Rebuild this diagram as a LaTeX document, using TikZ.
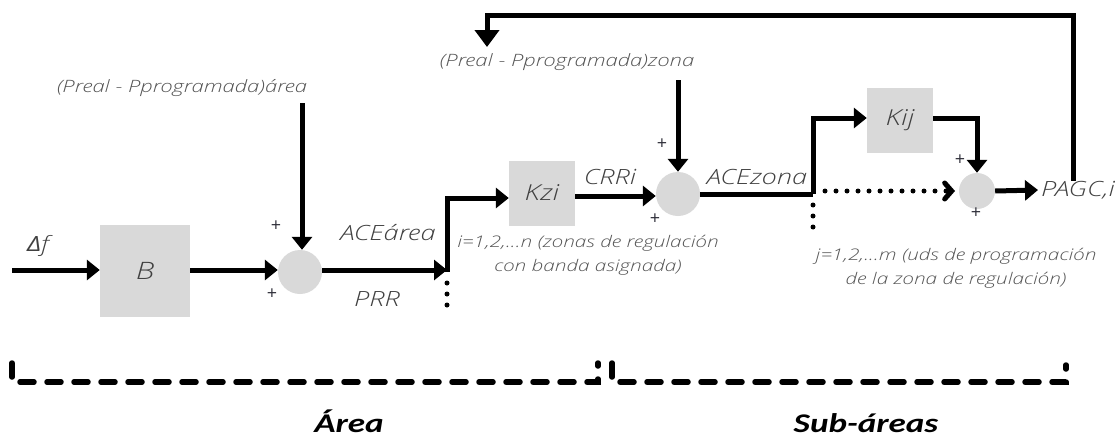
\documentclass[tikz,border=0pt]{standalone}
\usepackage{fontspec}
\setmainfont{Open Sans}[ItalicFont={Open Sans Light Italic}, ItalicFeatures={FakeStretch=1.3}]
\newfontfamily\grkfont{Open Sans}[ItalicFeatures={FakeStretch=1.2}]
\newfontfamily\capfont{Carlito}[FakeStretch=1.3]
\usetikzlibrary{arrows.meta}
\definecolor{boxgray}{HTML}{D9D9D9}
\definecolor{labelgray}{HTML}{404040}
\definecolor{notegray}{HTML}{555555}
\definecolor{plusgray}{HTML}{2F2F3A}
\begin{document}
\begin{tikzpicture}[x=1pt,y=-1pt,
  blk/.style={fill=boxgray, minimum width=66pt, minimum height=65pt, inner sep=0pt,
    font=\itshape\fontsize{22}{26}\selectfont, text=labelgray},
  sum/.style={circle, fill=boxgray, minimum size=44pt, inner sep=0pt},
  flow/.style={line width=5pt, -{Triangle[length=13pt,width=20pt]}},
  wire/.style={line width=5pt},
  dots/.style={line width=5pt, line cap=round, dash pattern=on 0pt off 11pt},
  lbl/.style={font=\itshape\fontsize{21}{24}\selectfont, text=labelgray, inner sep=0pt},
  note/.style={font=\itshape\fontsize{16}{24}\selectfont, text=notegray, align=center, inner sep=0pt},
  plus/.style={font=\fontsize{18}{18}\selectfont, text=plusgray, inner sep=0pt},
  brace/.style={line width=5.5pt, line cap=round, dash pattern=on 14pt off 13pt},
  sect/.style={font=\capfont\bfseries\itshape\fontsize{27}{30}\selectfont, inner sep=0pt}]
\useasboundingbox (0,0) rectangle (1118,439);

% ---- area stage ----
\node[blk, minimum width=90pt, minimum height=92pt, font=\itshape\fontsize{24}{26}\selectfont] (B) at (145,271) {B};
\node[sum] (s1) at (300,272) {};
\coordinate (in) at (12,270);
\node[lbl] (df) at (38,246) {{\grkfont\itshape Δ}f};
\node[note, font=\itshape\fontsize{17}{20}\selectfont] (parea) at (182,88) {(Preal - Pprogramada)área};
\coordinate (pa) at (302,103);
\node[plus] (p1a) at (276,226) {+};
\node[plus] (p1b) at (272,294) {+};
\node[lbl] (ace1) at (388,233) {ACEárea};
\node[lbl] (prr) at (377,299) {PRR};
\coordinate (j1) at (447,270);
\coordinate (j1d) at (447,313);

\draw[flow] (in) -- (B.west |- in);
\draw[flow] (B.east |- in) -- (s1.west |- in);
\draw[flow] (pa) -- (s1.north -| pa);
\draw[flow] (s1.east |- j1) -- (j1);

% ---- zone stage ----
\node[blk] (Kzi) at (542,193) {Kzi};
\node[sum] (s2) at (678,194) {};
\draw[wire] (447,272) -- (447,196);
\draw[flow] (447,198) -- (Kzi.west |- 0,198);
\draw[dots] (447,283) -- (j1d);
\node[lbl] (crr) at (610,177) {CRRi};
\node[note, font=\itshape\fontsize{17}{20}\selectfont] (pzona) at (567,62) {(Preal - Pprogramada)zona};
\coordinate (pz) at (678,80);
\node[plus] (p2a) at (662,144) {+};
\node[plus] (p2b) at (655,219) {+};
\node[lbl] (ace2) at (757,177) {ACEzona};
\node[note] (inote) at (588,255) {i=1,2,...n (zonas de regulación\\con banda asignada)};

\draw[flow] (Kzi.east |- 0,196) -- (s2.west |- 0,196);
\draw[flow] (pz) -- (s2.north);

% ---- unit stage ----
\coordinate (j2) at (813,194);
\coordinate (j2d) at (813,235);
\node[blk] (Kij) at (900,120) {Kij};
\node[sum, minimum size=36pt] (s3) at (977,191) {};
\node[plus] (p3a) at (960,160) {+};
\node[plus] (p3b) at (976,213) {+};
\node[lbl, anchor=west] (pagc) at (1041,190) {PAGC,i};
\node[note] (jnote) at (956,268) {j=1,2,...m (uds de programación\\de la zona de regulación)};
\coordinate (fb) at (487,47);

\draw[wire] (s2.east |- j2) -- (j2);
\draw[flow] (j2) |- (Kij.west |- 0,118);
\draw[flow] (Kij.east |- 0,118) -| (s3.north);
\draw[dots, -{Straight Barb[length=7pt,width=16pt,line cap=round]}] (825,191) -- (955,191);
\draw[dots] (813,205) -- (j2d);
\draw[flow] (s3.east) -- ([xshift=-3pt]pagc.west);
\draw[line width=5pt, -{Triangle[length=17pt,width=24pt]}] (pagc.north -| 1073,0) -- (1073,15) -| (fb);

% ---- section brackets ----
\draw[brace] (12,363) -- (12,382) -- (598,382) -- (598,363);
\draw[brace] (612,363) -- (612,382) -- (1066,382) -- (1066,365);
\node[sect, anchor=base] (sa) at (349,432) {Área};
\node[sect, anchor=base] (ss) at (866,432) {Sub-áreas};
\end{tikzpicture}
\end{document}
